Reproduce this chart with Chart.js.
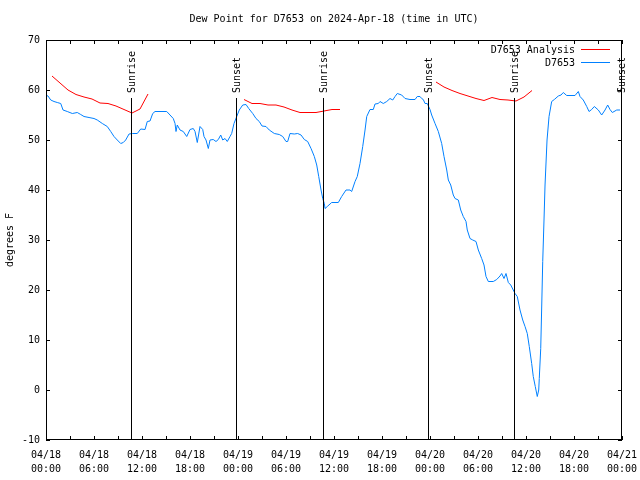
<!DOCTYPE html>
<html>
<head>
<meta charset="utf-8">
<title>Dew Point for D7653</title>
<script src="https://cdn.jsdelivr.net/npm/chart.js"></script>
<style>
  body { margin: 0; background: #fff; }
  canvas { display: block; }
</style>
</head>
<body>
<canvas id="chart" width="640" height="480"></canvas>
<script>
// hours since 2024-04-18 00:00 UTC
const obsHours = [0.1, 0.25, 0.59, 1.0, 1.41, 1.84, 2.13, 2.66, 3.29, 3.91, 4.34, 4.75, 5.38, 6.0, 6.41, 7.04, 7.66, 8.09, 8.5, 8.91,
  9.34, 9.66, 9.96, 10.38, 10.79, 11.41, 11.84, 12.38, 12.66, 13.0, 13.34, 13.63, 15.09, 15.5, 15.91, 16.13, 16.25, 16.41, 16.75, 17.16,
  17.59, 18.0, 18.41, 18.63, 18.91, 19.25, 19.59, 19.75, 20.0, 20.29, 20.5, 20.91, 21.25, 21.54, 21.84, 22.09, 22.38, 22.66, 23.0, 23.21,
  23.5, 23.84, 24.16, 24.59, 25.0, 25.34, 25.84, 26.25, 26.66, 27.0, 27.5, 27.91, 28.54, 29.16, 29.59, 30.0, 30.21, 30.5, 31.04, 31.46,
  31.88, 32.29, 32.71, 33.13, 33.54, 33.84, 34.09, 34.38, 34.59, 34.79, 34.88, 35.16, 35.71, 36.54, 36.96, 37.5, 38.0, 38.21, 38.63, 38.91,
  39.25, 39.59, 39.88, 40.09, 40.5, 40.91, 41.13, 41.54, 41.75, 42.16, 42.59, 43.0, 43.34, 43.63, 43.91, 44.46, 44.88, 45.5, 46.13, 46.41,
  46.75, 46.96, 47.16, 47.38, 47.66, 48.0, 48.21, 48.63, 49.04, 49.46, 49.75, 50.09, 50.29, 50.59, 50.91, 51.13, 51.54, 51.84, 52.16, 52.5,
  52.66, 53.0, 53.34, 53.75, 54.04, 54.46, 54.75, 55.0, 55.29, 55.91, 56.34, 56.75, 56.96, 57.25, 57.5, 57.79, 58.09, 58.63, 58.91, 59.25,
  59.59, 59.88, 60.16, 60.41, 60.71, 60.91, 61.16, 61.41, 61.59, 61.66, 61.84, 61.96, 62.09, 62.25, 62.38, 62.63, 62.88, 63.21, 63.54, 64.04,
  64.38, 64.66, 65.09, 66.13, 66.54, 66.75, 67.16, 67.59, 67.88, 68.21, 68.54, 69.04, 69.46, 69.88, 70.21, 70.5, 70.79, 71.34, 71.75]
const obsDew = [58.9, 58.8, 58.0, 57.7, 57.5, 57.3, 56.0, 55.7, 55.3, 55.5, 55.1, 54.7, 54.5, 54.3, 54.0, 53.3, 52.7, 51.7, 50.7, 50.0,
  49.3, 49.5, 50.0, 51.2, 51.3, 51.3, 52.2, 52.1, 53.7, 53.8, 55.3, 55.7, 55.7, 55.0, 54.3, 53.3, 51.7, 53.0, 52.0, 51.7,
  50.7, 52.1, 52.3, 51.7, 49.5, 52.7, 52.1, 50.7, 50.0, 48.3, 50.0, 50.1, 49.7, 50.1, 51.0, 50.0, 50.3, 49.7, 50.7, 51.3,
  53.3, 54.7, 56.0, 57.0, 57.1, 56.3, 55.3, 54.3, 53.7, 52.8, 52.7, 52.0, 51.3, 51.1, 50.7, 49.7, 49.7, 51.3, 51.2, 51.3,
  51.0, 50.1, 49.7, 48.3, 46.7, 45.0, 42.7, 40.0, 38.3, 37.3, 36.3, 36.7, 37.5, 37.5, 38.7, 40.0, 40.0, 39.7, 41.7, 42.7,
  45.3, 48.7, 52.0, 54.7, 56.1, 56.1, 57.2, 57.3, 57.7, 57.3, 57.7, 58.3, 58.0, 58.7, 59.3, 59.0, 58.3, 58.1, 58.1, 58.7,
  58.7, 58.3, 58.1, 57.3, 57.3, 56.1, 55.0, 53.3, 51.7, 49.3, 46.7, 44.0, 42.0, 41.0, 39.0, 38.3, 38.0, 36.0, 34.7, 33.7,
  32.0, 30.3, 30.0, 29.7, 28.0, 26.3, 25.0, 22.7, 21.7, 21.7, 22.1, 22.8, 23.3, 22.3, 23.3, 21.5, 21.0, 19.3, 18.7, 16.0,
  14.0, 12.7, 11.3, 8.7, 5.3, 2.7, 0.7, -1.3, 0.0, 2.3, 8.3, 16.4, 25.7, 34.0, 41.0, 50.0, 54.7, 57.7, 58.1, 58.8,
  59.0, 59.5, 58.9, 58.9, 59.7, 58.7, 58.0, 56.7, 55.7, 56.1, 56.7, 56.0, 55.0, 56.0, 57.0, 56.1, 55.5, 56.0, 56.0]

// analysis runs: null marks a break between runs
const anaHours = [0.75, 1.75, 2.75, 3.75, 4.75, 5.75, 6.75, 7.75, 8.75, 9.75, 10.75, 11.75, 12.75, 18,
  24.75, 25.75, 26.75, 27.75, 28.75, 29.75, 30.75, 31.75, 32.75, 33.75, 34.75, 35.75, 36.75, 42,
  48.75, 49.75, 50.75, 51.75, 52.75, 53.75, 54.75, 55.75, 56.75, 57.75, 58.75, 59.75, 60.75]
const anaDew = [62.8, 61.4, 60.0, 59.1, 58.6, 58.2, 57.4, 57.3, 56.8, 56.1, 55.4, 56.2, 59.2, null,
  58.1, 57.3, 57.3, 57.0, 57.0, 56.6, 56.0, 55.5, 55.5, 55.5, 55.8, 56.1, 56.1, null,
  61.6, 60.6, 59.9, 59.3, 58.8, 58.3, 57.9, 58.5, 58.1, 58.0, 57.8, 58.6, 59.9]

const sunHours = [10.625, 23.75, 34.625, 47.75, 58.5, 72]
const sunNames = ['Sunrise', 'Sunset', 'Sunrise', 'Sunset', 'Sunrise', 'Sunset']

const yTicks = [-10, 0, 10, 20, 30, 40, 50, 60, 70]
const startDay = 18
const titleText = 'Dew Point for D7653 on 2024-Apr-18 (time in UTC)'

const FONT = 'DejaVu Sans Mono'

let pad2 = (n) => String(n).padStart(2, '0')

let hourLabel = (h) => {
    if (h % 6 !== 0) return ''
    let day = startDay + Math.floor(h / 24)
    return ['04/' + pad2(day), pad2(h % 24) + ':00']
}

const overlay = {
    id: 'overlay',
    afterDatasetsDraw(chart) {
        const ctx = chart.ctx
        const a = chart.chartArea
        const x = chart.scales.x
        const y = chart.scales.y
        ctx.save()
        ctx.strokeStyle = '#000'
        ctx.fillStyle = '#000'
        ctx.lineWidth = 1
        ctx.font = '10px "' + FONT + '"'

        // title, centred over the plot like gnuplot does
        ctx.textAlign = 'center'
        ctx.textBaseline = 'middle'
        ctx.fillText(titleText, (a.left + a.right) / 2, 19)

        // sunrise / sunset markers
        sunHours.forEach((h, i) => {
            let px = Math.round(x.getPixelForValue(h)) + 0.5
            if (px > a.right) px = a.right - 0.5
            ctx.beginPath()
            ctx.moveTo(px, a.top + 58)
            ctx.lineTo(px, a.bottom)
            ctx.stroke()
            ctx.save()
            ctx.translate(px + 1, a.top + 53)
            ctx.rotate(-Math.PI / 2)
            ctx.textAlign = 'left'
            ctx.textBaseline = 'middle'
            ctx.fillText(sunNames[i], 0, 0)
            ctx.restore()
        })

        // frame
        ctx.strokeRect(a.left + 0.5, a.top + 0.5, a.right - a.left - 1, a.bottom - a.top - 1)

        // inward ticks on all four sides
        ctx.beginPath()
        x.ticks.forEach((t) => {
            let px = Math.round(x.getPixelForValue(t.value)) + 0.5
            ctx.moveTo(px, a.bottom); ctx.lineTo(px, a.bottom - 4)
            ctx.moveTo(px, a.top); ctx.lineTo(px, a.top + 4)
        })
        y.ticks.forEach((t) => {
            let py = Math.round(y.getPixelForValue(t.value)) + 0.5
            ctx.moveTo(a.left, py); ctx.lineTo(a.left + 4, py)
            ctx.moveTo(a.right, py); ctx.lineTo(a.right - 4, py)
        })
        ctx.stroke()

        // legend, gnuplot style: text then line sample
        chart.data.datasets.forEach((ds, i) => {
            let ly = a.top + 9.5 + i * 13
            ctx.textAlign = 'right'
            ctx.textBaseline = 'middle'
            ctx.fillStyle = '#000'
            ctx.fillText(ds.label, a.right - 47, ly + 1)
            ctx.strokeStyle = ds.borderColor
            ctx.beginPath()
            ctx.moveTo(a.right - 41, ly)
            ctx.lineTo(a.right - 12, ly)
            ctx.stroke()
        })
        ctx.restore()
    }
}

window.addEventListener('load', (event) => {
    const ctx = document.getElementById('chart').getContext('2d')
    new Chart(ctx, {
        type: 'line',
        data: {
            datasets: [{
                label: 'D7653 Analysis',
                data: anaHours.map((h, i) => ({ x: h, y: anaDew[i] })),
                borderColor: '#ff0000',
                borderWidth: 1,
                pointRadius: 0,
                spanGaps: false,
                tension: 0
            }, {
                label: 'D7653',
                data: obsHours.map((h, i) => ({ x: h, y: obsDew[i] })),
                borderColor: '#0080ff',
                borderWidth: 1,
                pointRadius: 0,
                tension: 0
            }]
        },
        options: {
            responsive: false,
            devicePixelRatio: 1,
            animation: false,
            layout: { padding: { left: 0, right: 18, top: 40, bottom: 0 } },
            plugins: {
                legend: { display: false },
                tooltip: { enabled: false },
                title: { display: false }
            },
            scales: {
                x: {
                    type: 'linear',
                    min: 0,
                    max: 72,
                    grid: { display: false, drawTicks: false },
                    border: { display: false },
                    afterFit: (s) => {
                        s.height = 40
                        s.paddingLeft = 0
                        s.paddingRight = 0
                    },
                    afterBuildTicks: (s) => {
                        let ticks = []
                        for (let h = 0; h <= 72; h += 3) ticks.push({ value: h })
                        s.ticks = ticks
                    },
                    ticks: {
                        autoSkip: false,
                        maxRotation: 0,
                        padding: 8,
                        color: '#000',
                        font: { family: FONT, size: 10, lineHeight: 1.4 },
                        callback: (v) => hourLabel(v)
                    }
                },
                y: {
                    min: -10,
                    max: 70,
                    grid: { display: false, drawTicks: false },
                    border: { display: false },
                    afterFit: (s) => {
                        s.width = 46
                        s.paddingTop = 0
                        s.paddingBottom = 0
                    },
                    afterBuildTicks: (s) => { s.ticks = yTicks.map((v) => ({ value: v })) },
                    ticks: {
                        padding: 6,
                        color: '#000',
                        font: { family: FONT, size: 10 }
                    },
                    title: {
                        display: true,
                        text: 'degrees F',
                        color: '#000',
                        font: { family: FONT, size: 10 },
                        padding: { top: 4, bottom: 0 }
                    }
                }
            }
        },
        plugins: [overlay]
    })
})
</script>
</body>
</html>
